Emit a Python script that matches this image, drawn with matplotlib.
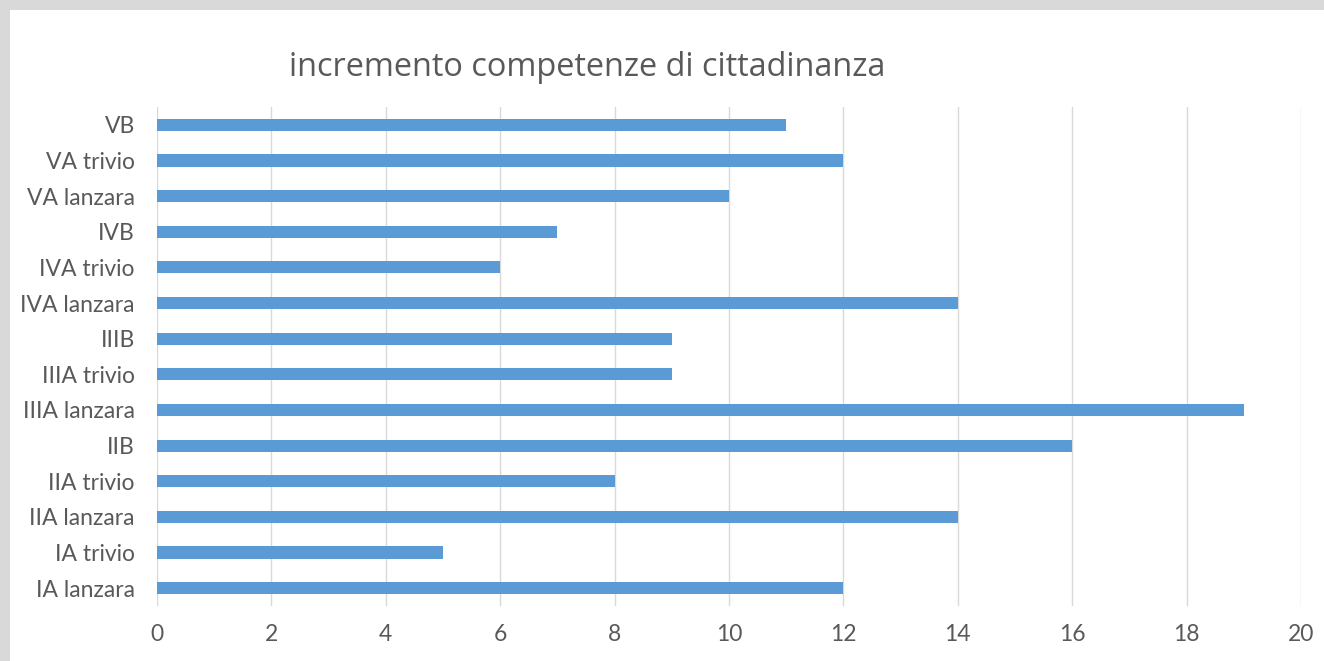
import matplotlib
matplotlib.use("Agg")
import matplotlib.pyplot as plt
from matplotlib.patches import Rectangle

categories = ["IA lanzara", "IA trivio", "IIA lanzara", "IIA trivio", "IIB",
              "IIIA lanzara", "IIIA trivio", "IIIB", "IVA lanzara", "IVA trivio",
              "IVB", "VA lanzara", "VA trivio", "VB"]
values = [12, 5, 14, 8, 16, 19, 9, 9, 14, 6, 7, 10, 12, 11]
xticks = [0, 2, 4, 6, 8, 10, 12, 14, 16, 18, 20]
title = "incremento competenze di cittadinanza"

W, H = 1324, 661
fig = plt.figure(figsize=(W / 100, H / 100), dpi=100)
fig.patch.set_facecolor("#d9d9d9")
bg = Rectangle((10 / W, 0), 1, (H - 10) / H, transform=fig.transFigure,
               facecolor="white", edgecolor="none", zorder=-10)
fig.patches.append(bg)

ax = fig.add_axes([157 / W, 1 - 606 / H, (1301 - 157) / W, (606 - 107) / H])
ax.set_zorder(1)
ax.set_facecolor("none")
y = list(range(len(categories)))
ax.barh(y, values, height=0.34, color="#5b9bd5", zorder=3)
ax.set_ylim(-0.5, len(categories) - 0.5)
ax.set_xlim(0, 20)
ax.set_xticks(xticks)
ax.set_yticks(y)
ax.set_yticklabels(categories)
ax.grid(axis="x", color="#d9d9d9", linewidth=1.0, zorder=0)
for s in ax.spines.values():
    s.set_visible(False)
ax.tick_params(axis="both", length=0, colors="#595959", labelsize=16.5)
ax.tick_params(axis="y", pad=16)
ax.tick_params(axis="x", pad=13)
for lab in ax.get_xticklabels() + ax.get_yticklabels():
    lab.set_fontfamily(["Lato", "DejaVu Sans"])

fig.text(587 / W, 1 - 67 / H, title, ha="center", va="center",
         fontsize=23.4, color="#595959", family=["Open Sans", "DejaVu Sans"])

fig.savefig("out.png", dpi=100, facecolor=fig.get_facecolor())
